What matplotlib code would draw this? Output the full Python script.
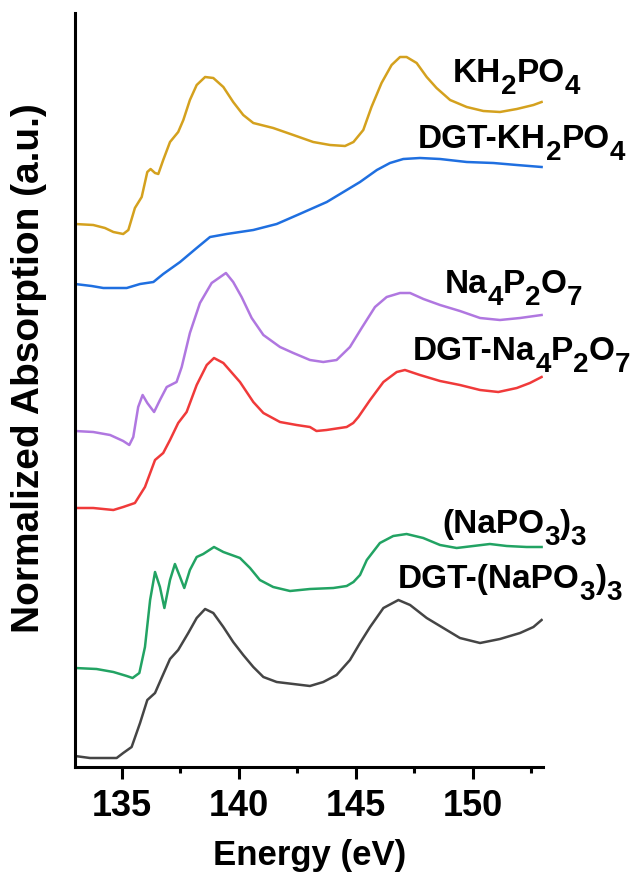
import matplotlib
matplotlib.use("Agg")
import matplotlib.pyplot as plt
from matplotlib.ticker import MultipleLocator
from matplotlib.transforms import offset_copy

plt.rcParams['font.family'] = ['Liberation Sans', 'DejaVu Sans']
plt.rcParams['font.weight'] = 'bold'

# spectra (energy in eV, stacked absorption in a.u.)
e_kh2po4 = [133.0, 133.78, 134.28, 134.64, 135.06, 135.28, 135.56, 135.85, 136.09, 136.23,
            136.42, 136.56, 136.77, 137.06, 137.41, 137.63, 137.91, 138.2, 138.56, 138.91,
            139.34, 139.76, 140.19, 140.62, 141.47, 142.33, 143.18, 143.9, 144.54, 144.9,
            145.32, 145.67, 146.1, 146.53, 146.89, 147.17, 147.6, 148.03, 148.45, 149.03,
            149.74, 150.45, 151.16, 151.88, 152.59, 152.94]
a_kh2po4 = [5.43, 5.42, 5.39, 5.35, 5.33, 5.37, 5.59, 5.70, 5.95, 5.98,
            5.94, 5.93, 6.07, 6.25, 6.35, 6.47, 6.67, 6.82, 6.90, 6.89,
            6.80, 6.65, 6.52, 6.44, 6.39, 6.32, 6.25, 6.22, 6.21, 6.25,
            6.37, 6.60, 6.84, 7.02, 7.10, 7.10, 7.04, 6.90, 6.79, 6.67,
            6.60, 6.56, 6.55, 6.58, 6.62, 6.65]

e_dgt_kh2po4 = [133.0, 133.71, 134.21, 135.21, 135.78, 136.35, 136.77, 137.49, 138.2, 138.77,
                139.48, 140.62, 141.62, 142.6, 143.76, 144.47, 145.18, 145.9, 146.46, 147.03,
                147.74, 148.6, 149.74, 150.88, 151.88, 152.94]
a_dgt_kh2po4 = [4.83, 4.81, 4.79, 4.79, 4.83, 4.85, 4.93, 5.05, 5.19, 5.30,
                5.33, 5.37, 5.43, 5.53, 5.65, 5.75, 5.85, 5.97, 6.04, 6.08,
                6.09, 6.08, 6.05, 6.04, 6.02, 6.00]

e_na4p2o7 = [133.0, 133.78, 134.5, 135.06, 135.32, 135.49, 135.7, 135.89, 136.09, 136.38,
             136.63, 136.92, 137.34, 137.56, 137.91, 138.34, 138.84, 139.45, 139.76, 140.12,
             140.55, 141.05, 141.76, 142.33, 143.04, 143.61, 144.18, 144.75, 145.25, 145.82,
             146.32, 146.89, 147.32, 147.89, 148.6, 149.45, 150.31, 151.16, 152.02, 152.94]
a_na4p2o7 = [3.36, 3.35, 3.32, 3.26, 3.22, 3.30, 3.60, 3.72, 3.64, 3.55,
             3.67, 3.80, 3.85, 4.00, 4.34, 4.64, 4.84, 4.94, 4.85, 4.70,
             4.49, 4.32, 4.20, 4.14, 4.07, 4.05, 4.07, 4.20, 4.39, 4.60,
             4.70, 4.74, 4.74, 4.68, 4.62, 4.56, 4.49, 4.47, 4.49, 4.52]

e_dgt_na4p2o7 = [133.0, 133.78, 134.64, 135.06, 135.56, 135.99, 136.42, 136.77, 137.06, 137.41,
                 137.77, 138.2, 138.63, 138.94, 139.34, 140.05, 140.62, 141.05, 141.76, 142.47,
                 143.04, 143.32, 143.75, 144.32, 144.61, 144.89, 145.11, 145.61, 146.18, 146.75,
                 147.1, 147.74, 148.6, 149.45, 150.31, 151.09, 151.88, 152.44, 152.94]
a_dgt_na4p2o7 = [2.59, 2.59, 2.57, 2.60, 2.64, 2.80, 3.07, 3.14, 3.27, 3.44,
                 3.55, 3.82, 4.02, 4.09, 4.04, 3.85, 3.65, 3.54, 3.45, 3.42,
                 3.40, 3.36, 3.37, 3.39, 3.40, 3.44, 3.50, 3.67, 3.85, 3.95,
                 3.97, 3.92, 3.86, 3.82, 3.77, 3.75, 3.79, 3.84, 3.90]

e_napo3 = [133.0, 133.92, 134.64, 135.21, 135.46, 135.75, 135.99, 136.21, 136.42, 136.63,
           136.82, 137.06, 137.27, 137.49, 137.67, 137.91, 138.2, 138.48, 138.94, 139.34,
           140.05, 140.48, 140.9, 141.47, 142.19, 143.04, 144.04, 144.61, 144.9, 145.18,
           145.47, 146.03, 146.6, 147.17, 147.88, 148.6, 149.31, 150.02, 150.73, 151.45,
           152.3, 152.94]
a_napo3 = [0.99, 0.98, 0.95, 0.91, 0.89, 0.94, 1.20, 1.67, 1.95, 1.80,
           1.59, 1.87, 2.03, 1.90, 1.79, 1.97, 2.10, 2.13, 2.20, 2.15,
           2.09, 1.99, 1.87, 1.80, 1.76, 1.78, 1.79, 1.81, 1.85, 1.92,
           2.07, 2.24, 2.31, 2.33, 2.29, 2.22, 2.19, 2.21, 2.23, 2.21,
           2.20, 2.20]

e_dgt_napo3 = [133.0, 133.64, 134.35, 134.78, 135.06, 135.42, 135.78, 136.09, 136.42, 136.7,
               137.06, 137.41, 137.84, 138.2, 138.56, 138.91, 139.34, 139.76, 140.19, 140.62,
               141.05, 141.62, 142.33, 143.04, 143.61, 144.18, 144.75, 145.18, 145.61, 146.18,
               146.82, 147.32, 148.03, 148.74, 149.45, 150.31, 151.16, 152.02, 152.59, 152.94]
a_dgt_napo3 = [0.11, 0.09, 0.09, 0.09, 0.14, 0.20, 0.44, 0.67, 0.74, 0.89,
               1.08, 1.17, 1.34, 1.49, 1.58, 1.54, 1.40, 1.25, 1.12, 1.00,
               0.90, 0.85, 0.83, 0.81, 0.85, 0.92, 1.07, 1.24, 1.40, 1.59,
               1.67, 1.62, 1.49, 1.39, 1.29, 1.24, 1.28, 1.34, 1.40, 1.47]

# labels as (text, subscript?) pieces
labels = [
    [('KH', 0), ('2', 1), ('PO', 0), ('4', 1)],
    [('DGT-KH', 0), ('2', 1), ('PO', 0), ('4', 1)],
    [('Na', 0), ('4', 1), ('P', 0), ('2', 1), ('O', 0), ('7', 1)],
    [('DGT-Na', 0), ('4', 1), ('P', 0), ('2', 1), ('O', 0), ('7', 1)],
    [('(NaPO', 0), ('3', 1), (')', 0), ('3', 1)],
    [('DGT-(NaPO', 0), ('3', 1), (')', 0), ('3', 1)],
]
label_pos = [(149.15, 6.85), (147.66, 6.19), (148.81, 4.74),
             (147.44, 4.07), (148.68, 2.34), (146.8, 1.79)]
colors = ['#D4A11E', '#1F6FE0', '#B077E0', '#F03A3A', '#22A363', '#454545']

series = [(e_kh2po4, a_kh2po4), (e_dgt_kh2po4, a_dgt_kh2po4),
          (e_na4p2o7, a_na4p2o7), (e_dgt_na4p2o7, a_dgt_na4p2o7),
          (e_napo3, a_napo3), (e_dgt_napo3, a_dgt_napo3)]

fig = plt.figure(figsize=(6.41, 8.82), dpi=100)
ax = fig.add_axes([75/641, 1-767/882, 468/641, 754/882])

for (e, a), c in zip(series, colors):
    ax.plot(e, a, color=c, lw=1.8)

ax.set_xlim(133, 153)
ax.set_ylim(0, 7.54)

renderer = fig.canvas.get_renderer()
for pieces, (x, y) in zip(labels, label_pos):
    dx = 0.0
    for s, sub in pieces:
        size = 20 if sub else 24
        dy = -8.5 if sub else 0.0
        tr = offset_copy(ax.transData, fig=fig, x=dx, y=dy, units='points')
        t = ax.text(x, y, s, fontsize=size, fontweight='bold', va='baseline',
                    ha='left', transform=tr)
        dx += t.get_window_extent(renderer).width * 72.0 / fig.dpi

ax.xaxis.set_major_locator(MultipleLocator(5))
ax.xaxis.set_minor_locator(MultipleLocator(2.5))
ax.set_yticks([])
for s in ['top', 'right']:
    ax.spines[s].set_visible(False)
for s in ['left', 'bottom']:
    ax.spines[s].set_linewidth(2.2)
ax.tick_params(axis='x', which='major', length=8.6, width=2.2, pad=7, labelsize=26)
ax.tick_params(axis='x', which='minor', length=4.3, width=2.2)
for t in ax.get_xticklabels():
    t.set_fontweight('bold')

fig.text(310/641, 1-865/882, 'Energy (eV)', fontsize=25, fontweight='bold',
         ha='center', va='baseline')
fig.text(29/641, 1-368/882, 'Normalized Absorption (a.u.)', fontsize=28,
         fontweight='bold', rotation=90, ha='center', va='center')

fig.savefig('out.png', dpi=100)
